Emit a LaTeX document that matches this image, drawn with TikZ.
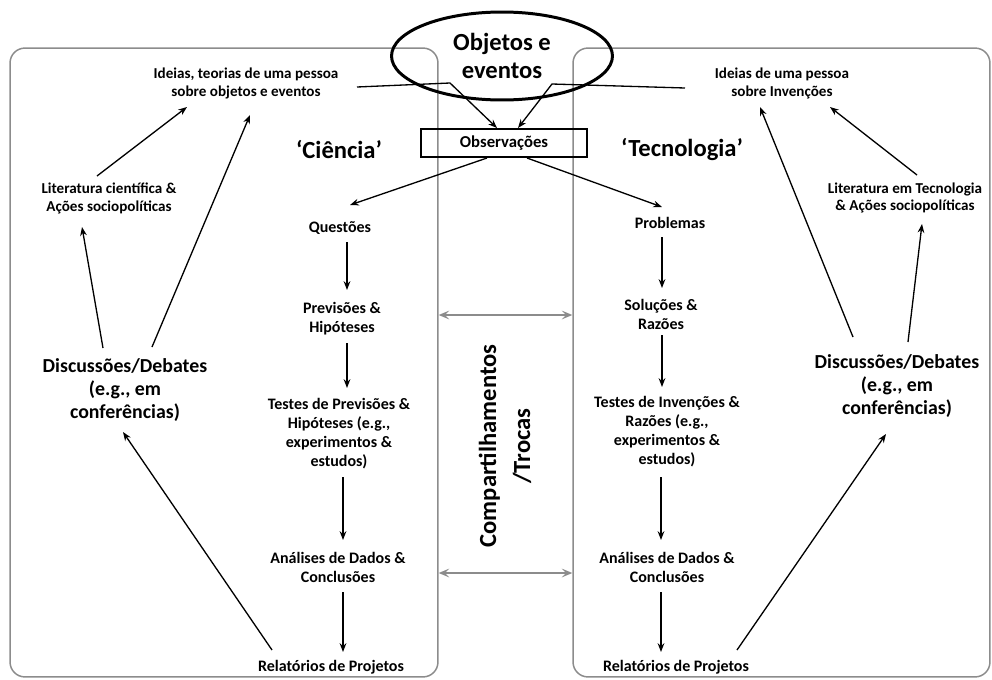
\documentclass[tikz,border=0pt]{standalone}
\usepackage{fontspec}
\setmainfont{Carlito}
\usetikzlibrary{calc,arrows.meta,shapes.geometric}
\definecolor{framegray}{RGB}{140,140,140}
\begin{document}
\begin{tikzpicture}[x=0.02cm,y=-0.02cm,
  arr/.style={draw=black, line width=0.75pt, -{Stealth[length=5pt,width=3.8pt]}},
  garr/.style={draw=framegray, line width=0.8pt,
    {Stealth[length=6pt,width=5pt,inset=2.5pt]}-{Stealth[length=6pt,width=5pt,inset=2.5pt]}},
  panel/.style={draw=framegray, line width=0.85pt, rounded corners=8.5pt, inner sep=0pt},
  small/.style={font=\bfseries\fontsize{8.6}{9.8}\selectfont, align=center, inner sep=0pt},
  flow/.style={font=\bfseries\fontsize{9.1}{10.8}\selectfont, align=center, inner sep=0pt},
  debate/.style={font=\bfseries\fontsize{11.3}{13.2}\selectfont, align=center, inner sep=0pt},
  area/.style={font=\bfseries\fontsize{14}{16}\selectfont, inner sep=0pt},
]
\useasboundingbox (0,0) rectangle (992,680);

% the two panels
\node[panel, minimum width=8.56cm, minimum height=12.58cm] (sci) at (224,362.5) {};
\node[panel, minimum width=8.34cm, minimum height=12.58cm] (tec) at (781.5,362.5) {};

% shared source
\node[ellipse, draw, line width=1.7pt, minimum width=4.42cm, minimum height=1.76cm,
      inner sep=0pt, align=center, font=\bfseries\fontsize{14}{16.4}\selectfont]
      (obj) at (502,56) {Objetos e\\eventos};
\node[draw, line width=0.6pt, minimum width=3.32cm, minimum height=0.56cm, inner sep=0pt,
      font=\bfseries\fontsize{9.5}{11}\selectfont] (obs) at (504,143) {Observações};

% headings
\node[area] (cien) at (339,150) {‘Ciência’};
\node[area] (tecn) at (682,150) {‘Tecnologia’};

% science side
\node[small] (ideiasL) at (246,83.5) {Ideias, teorias de uma pessoa\\sobre objetos e eventos};
\node[small] (litL) at (109,198.5) {Literatura científica \&\\Ações sociopolíticas};
\node[debate] (discL) at (125,390) {Discussões/Debates\\(e.g., em\\conferências)};
\node[flow] (q) at (340,228) {Questões};
\node[flow] (prev) at (342,319) {Previsões \&\\Hipóteses};
\node[flow] (testL) at (339,433.5) {Testes de Previsões \&\\Hipóteses (e.g.,\\experimentos \&\\estudos)};
\node[flow] (anaL) at (338,567) {Análises de Dados \&\\Conclusões};
\node[flow] (relL) at (331,667) {Relatórios de Projetos};

% technology side
\node[small] (ideiasR) at (782,83.5) {Ideias de uma pessoa\\sobre Invenções};
\node[small] (litR) at (905,198) {Literatura em Tecnologia\\\& Ações sociopolíticas};
\node[debate] (discR) at (897,386) {Discussões/Debates\\(e.g., em\\conferências)};
\node[flow] (prob) at (670,223) {Problemas};
\node[flow] (sol) at (661,314) {Soluções \&\\Razões};
\node[flow] (testR) at (667,431.5) {Testes de Invenções \&\\Razões (e.g.,\\experimentos \&\\estudos)};
\node[flow] (anaR) at (667,567) {Análises de Dados \&\\Conclusões};
\node[flow] (relR) at (676,667) {Relatórios de Projetos};

% exchange channel
\node[font=\bfseries\fontsize{14}{19.3}\selectfont, align=center, rotate=90, inner sep=0pt]
      (comp) at (505,446) {Compartilhamentos\\/Trocas};
\draw[garr] ($(sci.east)+(0,-47.5)$) -- ($(tec.west)+(0,-47.5)$);
\draw[garr] ($(sci.east)+(0,210.5)$) -- ($(tec.west)+(0,210.5)$);

% ideas feed the observations
\draw[arr] ($(ideiasL)+(111,3.5)$) -- ($(obs)+(-54,-60)$) -- ($(obs)+(-7,-15)$);
\draw[arr] ($(ideiasR)+(-97,4.5)$) -- ($(obs)+(48,-59)$) -- ($(obs)+(14,-15)$);
\draw[arr] ($(obs)+(-17,15)$) -- ($(q)+(10,-23)$);
\draw[arr] ($(obs)+(23,15)$) -- ($(prob)+(-8,-16)$);

% science chain
\draw[arr] ($(q)+(7,14)$) -- ($(prev)+(5,-29)$);
\draw[arr] ($(prev)+(5,24)$) -- ($(testL)+(8,-45.5)$);
\draw[arr] ($(testL)+(4,43.5)$) -- ($(anaL)+(5,-27)$);
\draw[arr] ($(anaL)+(5,25)$) -- ($(relL)+(12,-15)$);

% technology chain
\draw[arr] ($(prob)+(-8,14)$) -- ($(sol)+(1,-26)$);
\draw[arr] ($(sol)+(1,21)$) -- ($(testR)+(-5,-44.5)$);
\draw[arr] ($(testR)+(-6,45.5)$) -- ($(anaR)+(-6,-27)$);
\draw[arr] ($(anaR)+(-6,25)$) -- ($(relR)+(-15,-15)$);

% science feedback
\draw[arr] ($(discL)+(-22,-42)$) -- ($(litL)+(-27,28.5)$);
\draw[arr] ($(discL)+(27,-43)$) -- ($(ideiasL)+(4,31.5)$);
\draw[arr] ($(litL)+(-12,-22.5)$) -- ($(ideiasL)+(-59,23.5)$);
\draw[arr] ($(relL)+(-59,-17)$) -- ($(discL)+(-2,42)$);

% technology feedback
\draw[arr] ($(discR)+(-44,-49)$) -- ($(ideiasR)+(-22,23.5)$);
\draw[arr] ($(discR)+(11,-44)$) -- ($(litR)+(17,26)$);
\draw[arr] ($(litR)+(12,-23)$) -- ($(ideiasR)+(48,23.5)$);
\draw[arr] ($(relR)+(61,-17)$) -- ($(discR)+(-11,48)$);
\end{tikzpicture}
\end{document}
